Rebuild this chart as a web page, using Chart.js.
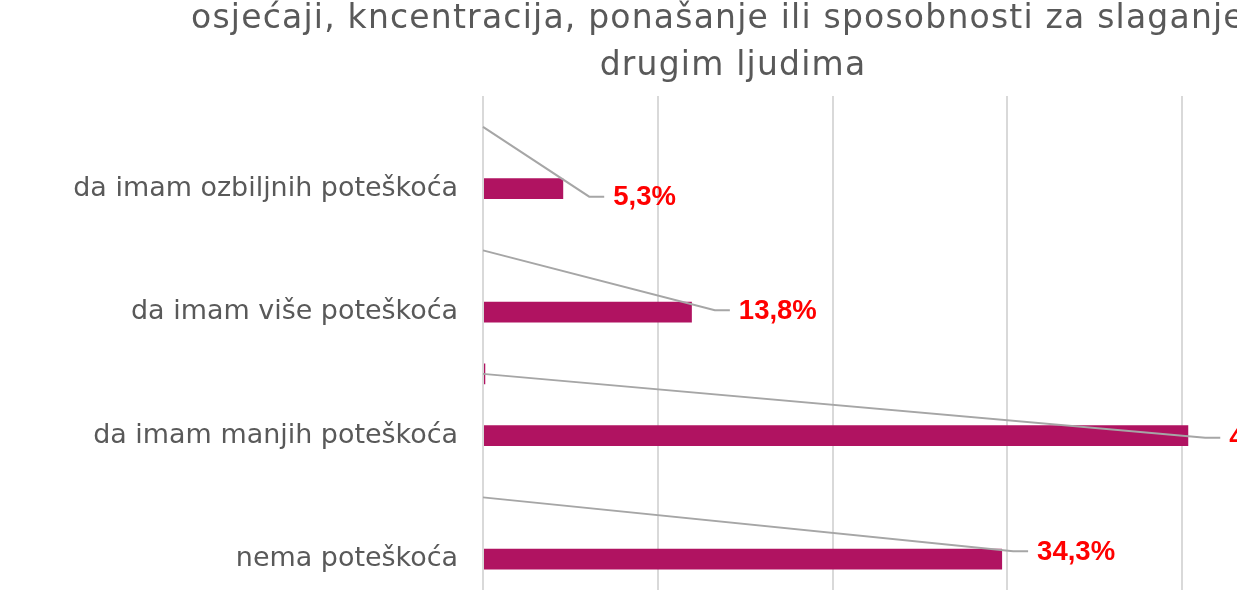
<!DOCTYPE html>
<html><head><meta charset="utf-8">
<script src="https://cdn.jsdelivr.net/npm/chart.js@4.4.1/dist/chart.umd.min.js"></script>
<style>
html,body{margin:0;padding:0;overflow:hidden;background:#fff;width:1237px;height:603px}
#wrap{position:absolute;left:0;top:0;width:1466px;height:603px}
</style></head><body>
<div id="wrap"><canvas id="c" width="1466" height="603"></canvas></div>
<script>
const titleLines = ['osjećaji, kncentracija, ponašanje ili sposobnosti za slaganje s', 'drugim ljudima'];
const categories = ['da imam ozbiljnih poteškoća', 'da imam više poteškoća', 'da imam manjih poteškoća', 'nema poteškoća'];
const mainValues = [5.3, 13.8, 46.6, 34.3];
const middleValues = [0, 0, 0, 0];
const upperValues = [0, 0, 0.15, 0];
const valueLabels = ['5,3%', '13,8%', '46,6%', '34,3%'];
const gridTicks = [0, 11.55, 23.1, 34.65, 46.2, 57.75];

const BAR = '#B01361';
const TITLE_FONT = '"DejaVu Sans", sans-serif';
const CAT_FONT = '"DejaVu Sans", sans-serif';
const LBL_FONT = '"Liberation Sans", Arial, sans-serif';

const mctx = document.createElement('canvas').getContext('2d');
function widthAt100(text, family, weight) {
  mctx.font = weight + ' 100px ' + family;
  return mctx.measureText(text).width;
}
const titleSize = 100 * 250 / widthAt100(titleLines[1], TITLE_FONT, 'normal');
const titleSpacing = 1.2;
const catSize = 100 * 385 / widthAt100(categories[0], CAT_FONT, 'normal');
const lblSize = 100 * 78 / widthAt100(valueLabels[3], LBL_FONT, 'bold');

const labelDx = [50, 47, 41, 35];
const labelDy = [8, -2, 2, -8];

const titlePlugin = {
  id: 'customTitle',
  afterDraw(chart) {
    const ctx = chart.ctx;
    ctx.save();
    ctx.font = titleSize.toFixed(2) + 'px ' + TITLE_FONT;
    ctx.letterSpacing = titleSpacing + 'px';
    ctx.fillStyle = '#595959';
    ctx.textAlign = 'center';
    ctx.textBaseline = 'alphabetic';
    const cx = chart.width / 2;
    ctx.fillText(titleLines[0], cx, 28);
    ctx.fillText(titleLines[1], cx, 75);
    ctx.restore();
  }
};

const leaderPlugin = {
  id: 'leaders',
  afterDatasetsDraw(chart) {
    const ctx = chart.ctx;
    const main = chart.getDatasetMeta(2).data;
    const upper = chart.getDatasetMeta(0).data;
    const x0 = chart.scales.x.getPixelForValue(0);
    ctx.save();
    main.forEach((el, i) => {
      const lx = el.x + labelDx[i], ly = el.y + labelDy[i];
      ctx.strokeStyle = '#a6a6a6';
      ctx.lineWidth = 2;
      ctx.beginPath();
      ctx.moveTo(x0, upper[i].y);
      ctx.lineTo(lx - 24, ly);
      ctx.lineTo(lx - 9, ly);
      ctx.stroke();
      ctx.font = 'bold ' + lblSize.toFixed(2) + 'px ' + LBL_FONT;
      ctx.fillStyle = '#ff0000';
      ctx.textAlign = 'left';
      ctx.textBaseline = 'middle';
      ctx.fillText(valueLabels[i], lx, ly + 1);
    });
    ctx.restore();
  }
};

new Chart(document.getElementById('c'), {
  type: 'bar',
  data: {
    labels: categories,
    datasets: [
      { data: upperValues, backgroundColor: BAR, borderWidth: 0 },
      { data: middleValues, backgroundColor: BAR, borderWidth: 0 },
      { data: mainValues, backgroundColor: BAR, borderWidth: 0 }
    ]
  },
  options: {
    indexAxis: 'y',
    responsive: false,
    animation: false,
    categoryPercentage: 0.75,
    barPercentage: 0.68,
    layout: { padding: { top: 96, bottom: 13, left: 0, right: 109 } },
    plugins: { legend: { display: false }, tooltip: { enabled: false }, title: { display: false } },
    scales: {
      x: {
        min: 0, max: gridTicks[gridTicks.length - 1],
        afterBuildTicks(s) { s.ticks = gridTicks.map(v => ({ value: v })); },
        ticks: { display: false },
        grid: { color: '#d9d9d9', lineWidth: 2, drawTicks: false },
        border: { display: false },
        afterFit(s) { s.height = 0; s.paddingLeft = 0; s.paddingRight = 0; }
      },
      y: {
        grid: { display: false, drawTicks: false },
        border: { display: false },
        ticks: { color: '#595959', font: { family: CAT_FONT, size: catSize }, padding: 25, labelOffset: 31 },
        afterFit(s) { s.width = 483; s.paddingTop = 0; s.paddingBottom = 0; }
      }
    }
  },
  plugins: [titlePlugin, leaderPlugin]
});
</script>
</body></html>
